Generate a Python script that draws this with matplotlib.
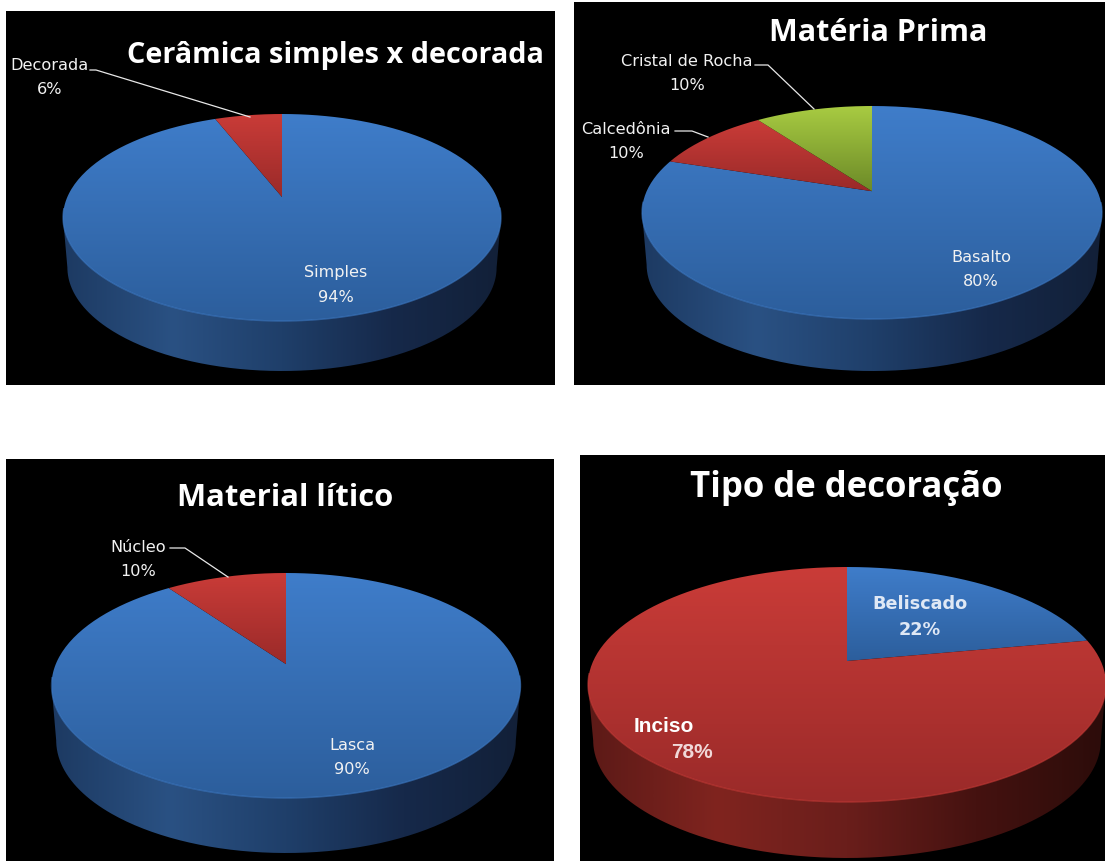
import numpy as np
import matplotlib
matplotlib.use('Agg')
import matplotlib.pyplot as plt
from matplotlib.colors import LinearSegmentedColormap
from matplotlib.patches import PathPatch, Rectangle
from matplotlib.path import Path

# data
titles = ['Cerâmica simples x decorada', 'Matéria Prima', 'Material lítico', 'Tipo de decoração']
labels_a = ['Simples', 'Decorada']
values_a = [94, 6]
labels_b = ['Basalto', 'Calcedônia', 'Cristal de Rocha']
values_b = [80, 10, 10]
labels_c = ['Lasca', 'Núcleo']
values_c = [90, 10]
labels_d = ['Beliscado', 'Inciso']
values_d = [22, 78]

BLUE = ('#3f7dca', '#2c5e9c')
RED = ('#ca3c38', '#9a2a29')
GREEN = ('#a9cc42', '#6c8a28')
WALL_BLUE = ['#1d3a62', '#2a5183', '#1f3f6a', '#16294a', '#122038']
WALL_RED = ['#5c1a17', '#80241f', '#6a1e1b', '#451210', '#2c0c0a']


def project(theta, pie):
    """angle clockwise from 12 o'clock -> picture pixels, apex sits above the ellipse centre"""
    cx, cy, rx, ry, d = pie[:5]
    u, v = np.sin(theta), np.cos(theta)
    s = np.sqrt(1 - d * d)
    return cx + rx * u * s / (1 + d * v), cy - ry * (v + d) / (1 + d * v)


def fill_gradient(ax, path, colors, horizontal=False):
    cmap = LinearSegmentedColormap.from_list('g', colors)
    x0, y0 = path.vertices.min(axis=0)
    x1, y1 = path.vertices.max(axis=0)
    grad = np.linspace(0, 1, 256)
    grad = grad[None, :] if horizontal else grad[:, None]
    im = ax.imshow(grad, cmap=cmap, extent=(x0, x1, y1, y0), aspect='auto',
                   interpolation='bilinear', zorder=2)
    im.set_clip_path(PathPatch(path, transform=ax.transData))


def draw_pie(ax, values, colors, pie, wall):
    cx, cy, rx, ry, d, depth = pie
    # side wall first, the lower rim is a bit narrower than the top
    t = np.linspace(-np.pi / 2, np.pi / 2, 200)
    top_x, top_y = cx + rx * np.sin(t), cy + ry * np.cos(t)
    low_x, low_y = cx + 0.98 * rx * np.sin(t), cy + depth + ry * np.cos(t)
    verts = np.vstack([np.column_stack([top_x, top_y]),
                       np.column_stack([low_x[::-1], low_y[::-1]])])
    fill_gradient(ax, Path(np.vstack([verts, verts[0]])), wall, horizontal=True)
    # top surface
    start = 0.0
    fracs = np.array(values) / sum(values) * 2 * np.pi
    for frac, col in zip(fracs, colors):
        th = np.linspace(start, start + frac, 240)
        px, py = project(th, pie)
        apex = (cx, cy - ry * d)
        verts = np.vstack([[apex], np.column_stack([px, py]), [apex]])
        fill_gradient(ax, Path(verts), col)
        # light rim on the front edge only
        front = np.cos(th) < -0.1
        ax.plot(px[front], py[front], color=col[0], lw=1.0, alpha=0.6, zorder=3)
        start += frac


def leader(ax, pts):
    ax.plot(*zip(*pts), color='#e8e8e8', lw=0.9, zorder=4)


fig = plt.figure(figsize=(11.05, 8.61), dpi=100, facecolor='white')
ax = fig.add_axes([0, 0, 1, 1])

# black panels
for x0, y0, x1, y1 in [(6, 11, 555, 385), (574, 2, 1105, 385), (6, 459, 554, 861), (580, 455, 1105, 861)]:
    ax.add_patch(Rectangle((x0, y0), x1 - x0, y1 - y0, facecolor='black', edgecolor='none', zorder=1))

draw_pie(ax, values_a, [BLUE, RED], (282, 217.5, 219, 103.5, 0.198, 50), WALL_BLUE)
draw_pie(ax, values_b, [BLUE, RED, GREEN], (872, 212.5, 230, 106.5, 0.2, 52), WALL_BLUE)
draw_pie(ax, values_c, [BLUE, RED], (286, 685.5, 234.5, 112.5, 0.19, 55), WALL_BLUE)
draw_pie(ax, values_d, [BLUE, RED], (847, 684.5, 259, 117.5, 0.2, 56), WALL_RED)

# titles
title_font = dict(family='Open Sans', fontweight='bold', color='white', ha='center', va='center', zorder=5)
ax.text(335, 55, titles[0], fontsize=20.8, **title_font)
ax.text(878, 33, titles[1], fontsize=22, **title_font)
ax.text(285, 498, titles[2], fontsize=22.3, **title_font)
ax.text(846, 488, titles[3], fontsize=25, **title_font)

# slice labels
lab = dict(family='DejaVu Sans', color='#f2f2f2', ha='center', va='center', fontsize=11.6, zorder=5)
ax.text(336, 273, labels_a[0], **lab)
ax.text(336, 297, f'{values_a[0]}%', **lab)
ax.text(49, 65, labels_a[1], **lab)
ax.text(50, 89, f'{values_a[1]}%', **lab)
leader(ax, [(90, 70), (96, 70), (250, 117)])

ax.text(981, 257, labels_b[0], **lab)
ax.text(981, 282, f'{values_b[0]}%', **lab)
ax.text(626, 129, labels_b[1], **lab)
ax.text(626, 153, f'{values_b[1]}%', **lab)
leader(ax, [(675, 131), (692, 131), (708, 137)])
ax.text(687, 62, labels_b[2], **lab)
ax.text(687, 86, f'{values_b[2]}%', **lab)
leader(ax, [(755, 65), (768, 65), (814, 109)])

ax.text(352, 745, labels_c[0], **lab)
ax.text(352, 770, f'{values_c[0]}%', **lab)
ax.text(138, 548, labels_c[1], **lab)
ax.text(138, 572, f'{values_c[1]}%', **lab)
leader(ax, [(170, 548), (185, 548), (228, 577)])

lab_b = dict(lab, fontweight='bold', fontsize=12.7, color='#dfe8f5')
ax.text(920, 604, labels_d[0], **lab_b)
ax.text(920, 630, f'{values_d[0]}%', **lab_b)
ax.text(664, 727, labels_d[1], family='Liberation Sans', fontweight='bold', fontsize=15,
        color='white', ha='center', va='center', zorder=5)
ax.text(692, 752, f'{values_d[1]}%', family='Liberation Sans', fontweight='bold', fontsize=15,
        color='#f0d8d8', ha='center', va='center', zorder=5)

ax.set_xlim(0, 1105)
ax.set_ylim(861, 0)
ax.axis('off')
fig.savefig('out.png', dpi=100, facecolor='white')
